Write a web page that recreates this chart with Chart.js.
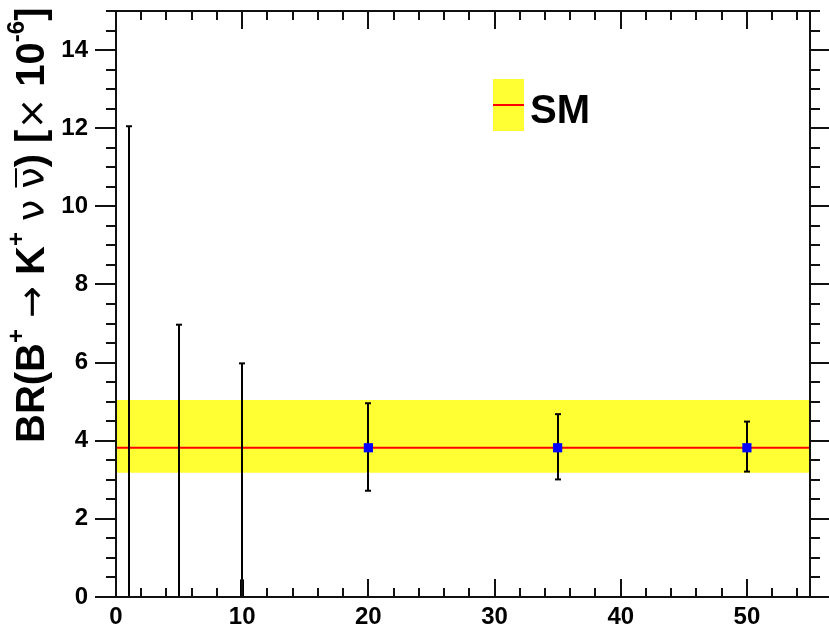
<!DOCTYPE html>
<html><head><meta charset="utf-8">
<script src="https://cdn.jsdelivr.net/npm/chart.js@4"></script>
<style>html,body{margin:0;padding:0;background:#fff}#wrap{width:829px;height:624px;position:relative}</style>
</head><body><div id="wrap"><canvas id="c" width="829" height="624"></canvas></div>
<script>
// ---- data ----
const xTickLabels = [0, 10, 20, 30, 40, 50];
const yTickLabels = [0, 2, 4, 6, 8, 10, 12, 14];
const xRange = [0, 55];
const yRange = [0, 15];
// upper-limit style bars (lower end off-scale)
const limitX = [1, 5, 10];
const limitHigh = [12.05, 6.97, 5.98];
const stubX = [10];
const stubHigh = [0.45];
// measured points
const pointX = [20, 35, 50];
const pointY = [3.82, 3.82, 3.82];
const pointHigh = [4.96, 4.68, 4.49];
const pointLow = [2.72, 3.01, 3.21];
// SM band
const smCenter = 3.82;
const smLow = 3.18;
const smHigh = 5.04;
const legendLabel = 'SM';

const FONT = '"Liberation Sans", Arial, Helvetica, sans-serif';
const SYM = '"DejaVu Sans", "Liberation Sans", sans-serif';
const YELLOW = '#ffff33';

const bandPts = v => xRange.map(x => ({x, y: v}));

const errPlugin = {
  id: 'errbars',
  afterDatasetDraw(chart, args) {
    if (args.index !== 1) return;
    const {ctx, scales: {x, y}} = chart;
    ctx.save();
    ctx.strokeStyle = '#000';
    ctx.lineWidth = 2;
    const cap = 3;
    const vline = (xv, lo, hi, capLo, capHi) => {
      const px = Math.round(x.getPixelForValue(xv));
      const pl = y.getPixelForValue(lo), ph = y.getPixelForValue(hi);
      ctx.beginPath(); ctx.moveTo(px, pl); ctx.lineTo(px, ph); ctx.stroke();
      if (capHi) { ctx.beginPath(); ctx.moveTo(px - cap, ph); ctx.lineTo(px + cap, ph); ctx.stroke(); }
      if (capLo) { ctx.beginPath(); ctx.moveTo(px - cap, pl); ctx.lineTo(px + cap, pl); ctx.stroke(); }
    };
    limitX.forEach((xv, i) => vline(xv, yRange[0], limitHigh[i], false, true));
    pointX.forEach((xv, i) => vline(xv, pointLow[i], pointHigh[i], true, true));
    ctx.lineWidth = 4;
    stubX.forEach((xv, i) => {
      const px = Math.round(x.getPixelForValue(xv));
      ctx.beginPath(); ctx.moveTo(px, y.getPixelForValue(yRange[0])); ctx.lineTo(px, y.getPixelForValue(stubHigh[i])); ctx.stroke();
    });
    ctx.restore();
  }
};

const framePlugin = {
  id: 'frame',
  afterDraw(chart) {
    const {ctx, chartArea: a, scales: {x, y}} = chart;
    ctx.save();
    ctx.strokeStyle = '#111';
    ctx.lineWidth = 2;
    ctx.strokeRect(a.left, a.top, a.right - a.left, a.bottom - a.top);
    ctx.beginPath();
    for (let v = xRange[0]; v <= xRange[1] + 1e-9; v += 2) {
      const px = Math.round(x.getPixelForValue(v));
      const major = xTickLabels.includes(v);
      const L = major ? 18 : 9;
      ctx.moveTo(px, a.bottom); ctx.lineTo(px, a.bottom - L);
      ctx.moveTo(px, a.top); ctx.lineTo(px, a.top + L);
    }
    for (let v = yRange[0]; v <= yRange[1] + 1e-9; v += 0.5) {
      const py = Math.round(y.getPixelForValue(v));
      const major = yTickLabels.includes(v);
      const L = major ? 21 : 10;
      ctx.moveTo(a.left, py); ctx.lineTo(a.left - L, py);
      ctx.moveTo(a.right, py); ctx.lineTo(a.right + L, py);
    }
    ctx.stroke();

    // legend
    ctx.fillStyle = YELLOW;
    ctx.fillRect(493, 79, 31, 52);
    ctx.strokeStyle = '#ff0000'; ctx.lineWidth = 2;
    ctx.beginPath(); ctx.moveTo(493, 105); ctx.lineTo(524, 105); ctx.stroke();
    ctx.fillStyle = '#000';
    ctx.font = 'bold 40px ' + FONT;
    ctx.textAlign = 'left'; ctx.textBaseline = 'alphabetic';
    ctx.fillText(legendLabel, 530, 123);

    // y title
    const F = 40;
    ctx.translate(44, 443); ctx.rotate(-Math.PI / 2);
    let cx = 0;
    const seg = (t, font, dy = 0) => { ctx.font = font; ctx.fillText(t, cx, dy); const w = ctx.measureText(t).width; cx += w; return w; };
    const B = s => `bold ${s}px ${FONT}`;
    const N = s => `${s}px ${SYM}`;
    seg('BR(B', B(F));
    seg('+', B(F * 0.6), -F * 0.5);
    seg(' ', B(F));
    seg('\u2192', N(F * 0.95));
    seg(' K', B(F));
    seg('+', B(F * 0.6), -F * 0.5);
    seg(' ', B(F));
    seg('\u03bd', N(F * 0.95));
    seg(' ', B(F));
    const x0 = cx;
    const wn = seg('\u03bd', N(F * 0.95));
    ctx.strokeStyle = '#000'; ctx.lineWidth = 2;
    ctx.beginPath(); ctx.moveTo(x0 + 1, -F * 0.7); ctx.lineTo(x0 + wn - 1, -F * 0.7); ctx.stroke();
    seg(') [', B(F));
    seg('\u00d7', N(F * 0.95));
    seg(' 10', B(F));
    seg('-6', B(F * 0.6), -F * 0.5);
    seg(']', B(F));
    ctx.restore();
  }
};

new Chart(document.getElementById('c'), {
  type: 'scatter',
  data: {
    datasets: [
      { label: 'points', data: pointX.map((x, i) => ({x, y: pointY[i]})), pointStyle: 'rect', pointRadius: 6.5, backgroundColor: '#0000ff', borderWidth: 0, showLine: false },
      { label: 'SM', data: bandPts(smCenter), showLine: true, borderColor: '#ff0000', borderWidth: 2, pointRadius: 0, fill: false },
      { label: 'bandHigh', data: bandPts(smHigh), showLine: true, borderWidth: 0, borderColor: 'rgba(0,0,0,0)', pointRadius: 0, fill: '+1', backgroundColor: YELLOW },
      { label: 'bandLow', data: bandPts(smLow), showLine: true, borderWidth: 0, borderColor: 'rgba(0,0,0,0)', pointRadius: 0, fill: false }
    ]
  },
  options: {
    responsive: false, animation: false, devicePixelRatio: 1,
    layout: { padding: { top: 11, right: 19, left: 0, bottom: 0 } },
    plugins: { legend: { display: false }, tooltip: { enabled: false }, title: { display: false } },
    scales: {
      x: {
        type: 'linear', min: xRange[0], max: xRange[1],
        grid: { display: false, drawTicks: false }, border: { display: false },
        afterBuildTicks: s => { s.ticks = xTickLabels.map(v => ({value: v})); },
        afterFit: s => { s.height = 27; s.paddingLeft = 0; s.paddingRight = 0; s.paddingTop = 0; s.paddingBottom = 0; },
        ticks: { color: '#000', font: { family: FONT, size: 24, weight: 'bold' }, padding: 6, maxRotation: 0, autoSkip: false }
      },
      y: {
        type: 'linear', min: yRange[0], max: yRange[1],
        grid: { display: false, drawTicks: false }, border: { display: false },
        afterBuildTicks: s => { s.ticks = yTickLabels.map(v => ({value: v})); },
        afterFit: s => { s.width = 116; s.paddingTop = 0; s.paddingBottom = 0; s.paddingLeft = 0; s.paddingRight = 0; },
        ticks: { color: '#000', font: { family: FONT, size: 24, weight: 'bold' }, padding: 28, autoSkip: false }
      }
    }
  },
  plugins: [errPlugin, framePlugin]
});
</script></body></html>
